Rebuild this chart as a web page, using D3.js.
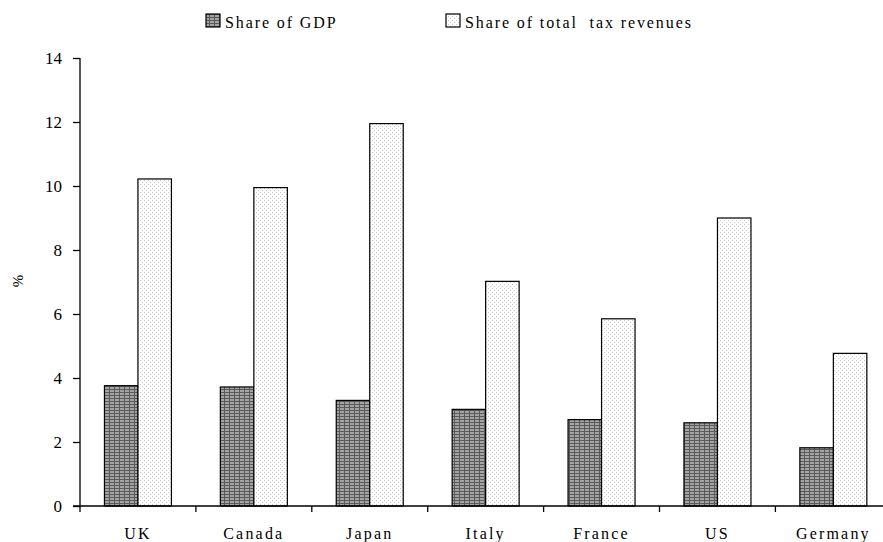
<!DOCTYPE html>
<html><head><meta charset="utf-8">
<script src="https://cdn.jsdelivr.net/npm/d3@7"></script>
<style>body{margin:0;background:#fff}svg{display:block}text{font-family:"Liberation Serif","Times New Roman",serif;fill:#000}</style>
</head><body><svg id="c" width="883" height="542"></svg>
<script>
const categories = ["UK","Canada","Japan","Italy","France","US","Germany"];
const seriesNames = ["Share of GDP","Share of total  tax revenues"];
const shareGDP = [3.76,3.72,3.3,3.02,2.7,2.6,1.82];
const shareTax = [10.22,9.95,11.95,7.02,5.85,9.0,4.77];
const yTicks = [0,2,4,6,8,10,12,14];

(function(){
const svg = d3.select("#c");
const defs = svg.append("defs");
const p1 = defs.append("pattern").attr("id","grid").attr("patternUnits","userSpaceOnUse").attr("width",5).attr("height",3);
p1.append("rect").attr("width",5).attr("height",3).attr("fill","#a4a4a4");
p1.append("rect").attr("y",2).attr("width",5).attr("height",1).attr("fill","#5a5a5a");
p1.append("rect").attr("x",4).attr("width",1).attr("height",3).attr("fill","#5a5a5a");
const p2 = defs.append("pattern").attr("id","dots").attr("patternUnits","userSpaceOnUse").attr("width",4).attr("height",4);
p2.append("rect").attr("width",4).attr("height",4).attr("fill","#fff");
p2.append("rect").attr("x",0).attr("y",0).attr("width",1).attr("height",1).attr("fill","#c8c8c8");
p2.append("rect").attr("x",2).attr("y",2).attr("width",1).attr("height",1).attr("fill","#c8c8c8");

const mLeft = 80, mBottom = 506, mTop = 58;
const bandW = 115.9;
const x = d3.scaleBand().domain(categories).range([mLeft, mLeft + bandW*categories.length]).padding(0);
const y = d3.scaleLinear().domain([0,14]).range([mBottom, mTop]);
const barW = 33.5;

const g = svg.append("g");
categories.forEach((c,i)=>{
  const cx = x(c) + x.bandwidth()/2;
  g.append("rect").attr("x",cx-barW).attr("y",y(shareGDP[i])).attr("width",barW).attr("height",mBottom-y(shareGDP[i]))
   .attr("fill","url(#grid)").attr("stroke","#000").attr("stroke-width",1.2);
  g.append("rect").attr("x",cx).attr("y",y(shareTax[i])).attr("width",barW).attr("height",mBottom-y(shareTax[i]))
   .attr("fill","url(#dots)").attr("stroke","#000").attr("stroke-width",1.2);
});

const yAxis = d3.axisLeft(y).tickValues(yTicks).tickSize(7).tickPadding(11).tickSizeOuter(0);
const ya = svg.append("g").attr("transform",`translate(${mLeft},0)`).call(yAxis);
ya.select(".domain").attr("stroke","#000").attr("stroke-width",1.3).attr("d",`M0,${mTop}V${mBottom+6}`);
ya.selectAll(".tick line").attr("stroke","#000").attr("stroke-width",1.3);
ya.selectAll("text").attr("font-size",17).attr("font-family","Liberation Serif, serif");

const xa = svg.append("g").attr("transform",`translate(0,${mBottom})`);
xa.append("line").attr("x1",mLeft-7).attr("x2",883).attr("y1",0).attr("y2",0).attr("stroke","#000").attr("stroke-width",1.3);
categories.forEach((c,i)=>{
  if(i>0) xa.append("line").attr("x1",x(c)).attr("x2",x(c)).attr("y1",0).attr("y2",6).attr("stroke","#000").attr("stroke-width",1.3);
  xa.append("text").attr("x",x(c)+x.bandwidth()/2).attr("y",32.5).attr("text-anchor","middle")
    .attr("font-size",16).attr("letter-spacing","2.2px").text(c);
});

svg.append("text").attr("transform",`translate(23,281) rotate(-90)`).attr("text-anchor","middle").attr("font-size",15).text("%");

const leg = [{n:seriesNames[0],f:"url(#grid)",x:206},{n:seriesNames[1],f:"url(#dots)",x:446}];
leg.forEach(l=>{
  svg.append("rect").attr("x",l.x).attr("y",14).attr("width",14).attr("height",13).attr("fill",l.f).attr("stroke","#000").attr("stroke-width",1.2);
  svg.append("text").attr("x",l.x+19).attr("y",27.5).attr("font-size",16).attr("letter-spacing","1.9px").style("white-space","pre").text(l.n);
});
})();
</script></body></html>
